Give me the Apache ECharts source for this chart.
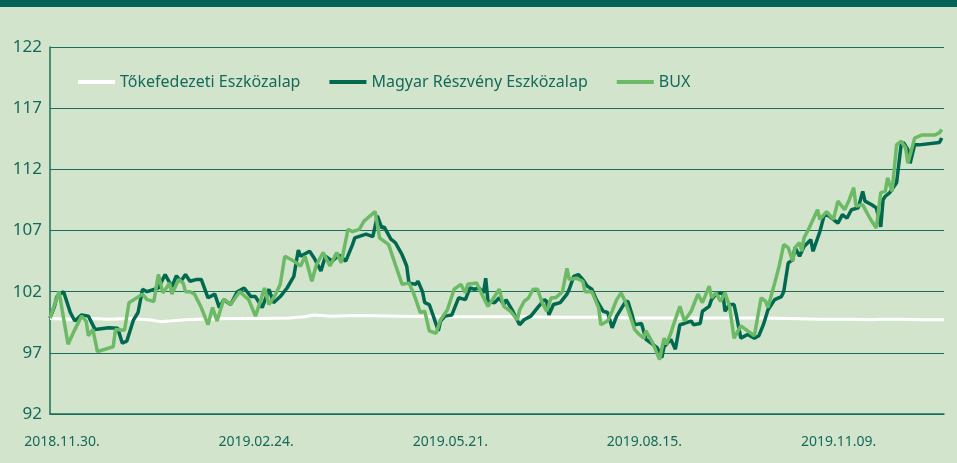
<!DOCTYPE html>
<html>
<head>
<meta charset="utf-8">
<script src="https://cdn.jsdelivr.net/npm/echarts@6/dist/echarts.min.js"></script>
<style>
html,body{margin:0;padding:0;background:#d2e5cc;}
#chart{width:957px;height:463px;}
</style>
</head>
<body>
<div id="chart"></div>
<script>
// Day offsets counted from 2018.11.30.
const seriesNames = ['Tőkefedezeti Eszközalap', 'Magyar Részvény Eszközalap', 'BUX'];

const tickDays = [0, 86, 172, 258, 344];
const tickLabels = ['2018.11.30.', '2019.02.24.', '2019.05.21.', '2019.08.15.', '2019.11.09.'];

const yTicks = [92, 97, 102, 107, 112, 117, 122];

const tokDays = [0, 9, 18, 26, 35, 44, 49, 53, 60, 66, 80, 93, 106, 113, 117, 124, 137, 155, 173, 190, 208, 226, 244, 261, 279, 297, 315, 328, 341, 355, 364, 368, 377, 386, 396];
const tokVals = [99.8, 99.75, 99.8, 99.75, 99.8, 99.7, 99.55, 99.6, 99.7, 99.75, 99.8, 99.8, 99.85, 99.95, 100.1, 100.0, 100.05, 100.0, 99.95, 99.95, 99.95, 99.9, 99.9, 99.85, 99.85, 99.85, 99.85, 99.8, 99.75, 99.75, 99.7, 99.75, 99.75, 99.7, 99.7];

const magyarDays = [0, 2, 3, 6, 9, 11, 14, 17, 20, 26, 30, 32, 34, 37, 39, 41, 43, 48, 51, 54, 56, 58, 60, 62, 65,
  67, 70, 73, 75, 77, 80, 83, 86, 89, 91, 94, 97, 99, 102, 105, 108, 110, 111, 115, 117, 120, 122, 125, 128, 131, 134,
  135, 140, 143, 145, 147, 148, 151, 153, 156, 158, 159, 162, 163, 165, 166, 168, 170, 172, 173, 175, 178, 181, 184, 186, 188, 190, 192, 193, 194,
  197, 199, 201, 202, 205, 208, 210, 213, 216, 219, 220, 221, 223, 226, 229, 230, 232, 234, 236, 238, 240, 242, 245, 247, 249, 251, 255, 256, 258, 259, 262,
  264, 267, 269, 271, 272, 275, 277, 279, 281, 284, 285, 288, 289, 292, 293, 295, 298, 299, 301, 303, 304, 306, 309, 312, 314, 316, 318, 321, 324, 325, 327, 329,
  330, 332, 334, 337, 338, 341, 343, 345, 349, 351, 353, 355, 358, 360, 361, 364, 366, 368, 369, 370, 372, 375, 377, 378, 380, 381, 383, 385, 394, 395];
const magyarVals = [99.86, 100.8, 101.6, 102.0, 100.3, 99.6, 100.1, 100.0, 98.9, 99.05, 99.0, 97.8, 97.95, 99.7, 100.3, 102.2, 102.0, 102.3, 103.4, 102.4, 103.3, 102.85, 103.4, 102.85, 103.0,
  103.0, 101.5, 101.8, 100.7, 101.35, 100.95, 102.0, 102.3, 101.6, 101.6, 100.7, 102.2, 101.1, 101.6, 102.3, 103.25, 105.4, 104.9, 105.3, 104.75, 103.7, 104.9, 104.5, 105.0, 104.5, 105.85,
  106.4, 106.7, 106.5, 108.2, 107.2, 107.3, 106.3, 106.0, 105.0, 104.1, 102.7, 102.6, 102.85, 102.0, 101.1, 100.95, 99.9, 98.8, 99.6, 100.0, 100.1, 101.5, 101.35, 102.3, 102.2, 102.3, 101.9, 103.1, 101.2,
  101.1, 101.5, 100.95, 101.35, 100.4, 99.3, 99.7, 100.0, 100.7, 101.35, 101.2, 100.1, 100.95, 101.1, 101.8, 102.2, 103.25, 103.4, 103.0, 102.45, 102.2, 101.35, 100.4, 100.3, 99.05, 100.0, 101.2, 101.2, 100.0, 99.3, 99.4,
  98.1, 97.7, 97.4, 96.6, 97.5, 98.1, 97.3, 99.3, 99.4, 99.6, 99.3, 99.4, 100.4, 100.8, 101.35, 101.8, 101.9, 100.4, 100.95, 100.95, 100.1, 98.2, 98.5, 98.2, 98.4, 99.3, 100.5, 101.35, 101.6, 102.0, 104.35, 104.6,
  105.6, 104.9, 105.7, 106.25, 105.3, 106.9, 108.3, 108.2, 107.6, 108.3, 108.0, 108.7, 108.85, 110.2, 109.4, 109.1, 108.85, 107.3, 109.5, 109.8, 110.1, 110.9, 114.0, 114.2, 113.6, 112.5, 114.0, 114.0, 114.2, 114.56];

const buxDays = [0, 4, 8, 11, 14, 16, 17, 19, 21, 28, 29, 33, 35, 41, 43, 46, 48, 50, 53, 54, 57, 59, 60, 62,
  64, 67, 70, 72, 74, 77, 80, 84, 88, 91, 93, 95, 97, 100, 102, 104, 108, 111, 113, 116, 118, 121, 124, 127, 129, 132, 134,
  137, 139, 144, 146, 150, 153, 156, 159, 161, 164, 166, 168, 171, 173, 176, 179, 182, 184, 185, 189, 191, 194,
  196, 199, 201, 204, 207, 208, 210, 212, 214, 216, 218, 220, 222, 224, 227, 229, 230, 233, 236, 237, 240, 243, 244, 247, 249, 251, 253, 255, 257, 259, 261,
  263, 264, 267, 270, 272, 273, 275, 276, 279, 281, 284, 287, 289, 292, 293, 295, 297, 299, 301, 303, 306, 309, 312, 315, 317, 318, 321, 323, 325, 327, 329,
  330, 332, 333, 334, 336, 340, 341, 344, 347, 349, 352, 354, 356, 357, 360, 362, 364, 366, 368, 370, 371, 373, 375, 377, 379, 380, 383, 386, 392, 394, 395];
const buxVals = [99.86, 102.0, 97.7, 98.9, 100.0, 99.6, 98.4, 98.9, 97.1, 97.5, 98.9, 98.85, 101.1, 101.8, 101.35, 101.2, 103.4, 101.9, 102.7, 101.8, 103.0, 102.7, 102.0, 102.0,
  101.8, 100.7, 99.3, 100.7, 99.6, 101.4, 100.95, 102.0, 101.35, 100.0, 101.1, 102.3, 100.95, 101.8, 102.6, 104.9, 104.5, 104.1, 104.9, 102.85, 104.2, 105.2, 104.1, 105.2, 104.35, 107.1, 106.9,
  107.1, 107.75, 108.55, 106.4, 105.85, 104.2, 102.6, 102.7, 101.9, 100.3, 100.4, 98.8, 98.6, 99.7, 100.5, 102.2, 102.6, 101.9, 102.6, 102.7, 101.9, 100.8,
  101.35, 102.2, 100.8, 100.4, 99.7, 100.5, 101.2, 101.5, 102.2, 102.2, 101.1, 100.4, 101.5, 101.5, 102.0, 103.9, 103.0, 103.1, 102.85, 102.0, 102.0, 100.7, 99.3, 99.6, 100.4, 101.35, 101.9, 101.1, 100.0, 98.9, 98.5,
  98.2, 98.8, 97.8, 96.45, 98.2, 97.7, 98.6, 99.2, 100.8, 99.6, 100.4, 101.8, 101.1, 102.45, 101.5, 101.9, 101.2, 101.9, 100.8, 98.2, 99.2, 98.8, 98.4, 101.5, 101.2, 100.7, 102.7, 104.1, 105.85, 105.6, 104.5,
  105.6, 106.0, 105.3, 106.4, 107.1, 108.7, 107.9, 108.55, 107.9, 109.4, 108.7, 109.5, 110.5, 109.0, 109.1, 108.4, 107.75, 107.2, 110.1, 110.2, 111.3, 110.2, 114.0, 114.3, 113.75, 112.5, 114.55, 114.8, 114.8, 115.0, 115.25];

const zip = (d, v) => d.map((x, i) => [x, v[i]]);
const labelMap = {};
tickDays.forEach((d, i) => { labelMap[d] = tickLabels[i]; });

const textColor = '#15695a';
const chart = echarts.init(document.getElementById('chart'), null, {renderer: 'canvas'});
chart.setOption({
  backgroundColor: '#d2e5cc',
  animation: false,
  graphic: [{
    type: 'rect', left: 0, top: 0, shape: {width: 957, height: 7}, style: {fill: '#006554'}, silent: true
  }],
  grid: {left: 50, right: 13, top: 47, bottom: 49, containLabel: false},
  legend: {
    left: 73, top: 69,
    itemWidth: 37, itemHeight: 4, itemGap: 29,
    icon: 'rect',
    textStyle: {color: textColor, fontSize: 16, fontFamily: 'Noto Sans'},
    data: seriesNames
  },
  xAxis: {
    type: 'value', min: 0, max: 396, interval: 86,
    axisLine: {show: true, lineStyle: {color: '#1d6e5a', width: 1.5}},
    axisTick: {show: false},
    splitLine: {show: false},
    axisLabel: {
      color: textColor, fontSize: 14, fontFamily: 'Noto Sans', margin: 21,
      showMaxLabel: false, padding: [0, 0, 0, 24],
      formatter: v => labelMap[v] || ''
    }
  },
  yAxis: {
    type: 'value', min: yTicks[0], max: yTicks[yTicks.length - 1], interval: 5,
    axisLine: {show: true, lineStyle: {color: '#1d6e5a', width: 1.5}},
    axisTick: {show: false},
    splitLine: {show: true, lineStyle: {color: '#1d6e5a', width: 1.2}},
    axisLabel: {color: textColor, fontSize: 17, fontFamily: 'Noto Sans', margin: 8}
  },
  series: [
    {name: seriesNames[0], type: 'line', data: zip(tokDays, tokVals), showSymbol: false, symbol: 'none',
     color: '#ffffff', lineStyle: {color: '#ffffff', width: 3}},
    {name: seriesNames[1], type: 'line', data: zip(magyarDays, magyarVals), showSymbol: false, symbol: 'none',
     color: '#00694f', lineStyle: {color: '#00694f', width: 3.5}},
    {name: seriesNames[2], type: 'line', data: zip(buxDays, buxVals), showSymbol: false, symbol: 'none',
     color: '#6cb966', lineStyle: {color: '#6cb966', width: 3.5}}
  ]
});
</script>
</body>
</html>
